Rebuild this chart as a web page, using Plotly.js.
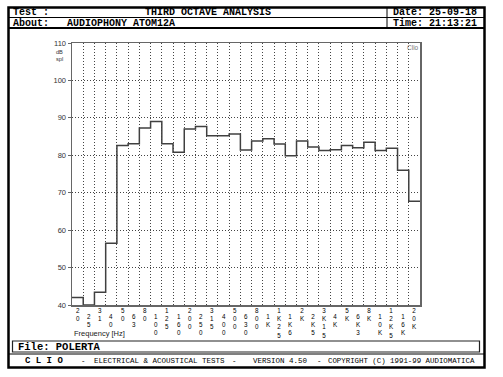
<!DOCTYPE html>
<html><head><meta charset="utf-8">
<script src="https://cdn.plot.ly/plotly-3.0.1.min.js"></script>
<style>html,body{margin:0;padding:0;background:#fff;overflow:hidden}#chart{width:503px;height:377px}</style>
</head><body><div id="chart"></div>
<script>
// ---- data ----
const bandLabels = ["20","25","31","40","50","63","80","100","125","160","200","250","315","400","500","630","800","1K","1K25","1K6","2K","2K5","3K15","4K","5K","6K3","8K","10K","12K5","16K","20K"];
const levels = [42.0,40.0,43.4,56.5,82.6,83.1,87.3,89.0,83.1,80.8,87.0,87.7,85.2,85.2,85.7,81.4,83.8,84.4,83.0,79.9,83.8,82.2,81.3,81.5,82.6,82.0,83.5,81.3,81.9,76.0,67.7];
const yTicks = [40,50,60,70,80,90,100,110];
const headerTitle = "THIRD OCTAVE ANALYSIS";
const aboutText = "AUDIOPHONY ATOM12A";
const dateText = "Date: 25-09-18";
const timeText = "Time: 21:13:21";
const fileText = "File: POLERTA";

// ---- geometry helpers (page pixels -> paper) ----
const W = 503, H = 377;
const M = {l:72, r:83, t:43, b:72};
const PW = W - M.l - M.r, PH = H - M.t - M.b;
const px = x => (x - M.l) / PW;
const py = y => (H - M.b - y) / PH;

const MONO = "Liberation Mono, DejaVu Sans Mono, monospace";
const SANS = "Liberation Sans, Arial, sans-serif";

// step trace from band index
const xs = levels.map((_, i) => i).concat([levels.length]);
const ys = levels.concat([levels[levels.length - 1]]);

const trace = {
  type: 'scatter', mode: 'lines', x: xs, y: ys,
  line: {shape: 'hv', color: '#404040', width: 1.5},
  hoverinfo: 'skip', showlegend: false
};

const ann = [];
function txt(t, X, Y, opt) {
  opt = opt || {};
  ann.push({
    text: t, xref: 'paper', yref: 'paper', x: px(X), y: py(Y),
    xanchor: opt.xa || 'left', yanchor: 'middle', showarrow: false,
    borderpad: 0, align: 'left',
    font: {family: opt.family || MONO, size: opt.size || 10, color: opt.color || '#000',
           weight: opt.bold ? 'bold' : 'normal'}
  });
}
// header
txt("Test :", 12, 13, {bold: true});
txt(headerTitle, 208, 13, {bold: true, xa: 'center'});
txt(dateText, 392, 13, {bold: true});
txt("About:", 12, 23, {bold: true});
txt(aboutText, 66, 23, {bold: true});
txt(timeText, 392, 23, {bold: true});
// file + footer
txt(fileText, 17, 346.5, {bold: true, size: 10.5});
txt("C L I O", 24, 360.5, {bold: true, size: 9});
txt("-", 80, 360.5, {size: 7.5});
txt("ELECTRICAL &amp; ACOUSTICAL TESTS", 93, 360.5, {size: 7.5});
txt("-", 231, 360.5, {size: 7.5});
txt("VERSION 4.50", 252, 360.5, {size: 7.5});
txt("-", 316, 360.5, {size: 7.5});
txt("COPYRIGHT (C) 1991-99 AUDIOMATICA", 327, 360.5, {size: 7.4});
// axis captions
txt("dB<br>spl", 55, 55.5, {family: SANS, size: 5.6, color: '#333'});
txt("Clio", 406, 48, {family: SANS, size: 6.5, color: '#777'});
txt("Frequency [Hz]", 73, 333, {family: SANS, size: 7.5, color: '#222'});

// x tick labels: vertical stacked characters, staggered rows (one text per band)
bandLabels.forEach((lab, i) => {
  const top = (i % 2 === 0) ? 306 : 312;
  ann.push({
    text: lab.split('').join('<br>'), xref: 'x', yref: 'paper', x: i + 0.5, y: py(top),
    xanchor: 'center', yanchor: 'top', showarrow: false, borderpad: 0, align: 'center',
    font: {family: SANS, size: 6.3, color: '#000'}
  });
});

const shapes = [];
function rect(x0, y0, x1, y1, w, c) {
  shapes.push({type: 'rect', xref: 'paper', yref: 'paper', x0: px(x0), x1: px(x1), y0: py(y0), y1: py(y1),
    line: {color: c || '#000', width: w}, fillcolor: 'rgba(0,0,0,0)', layer: 'above'});
}
function line(x0, y0, x1, y1, w, c) {
  shapes.push({type: 'line', xref: 'paper', yref: 'paper', x0: px(x0), x1: px(x1), y0: py(y0), y1: py(y1),
    line: {color: c || '#000', width: w}, layer: 'above'});
}
rect(8.5, 7.5, 484.5, 367.5, 2.5);
line(8, 17.5, 485, 17.5, 1);
line(8, 28, 485, 28, 2);
line(387, 8, 387, 28, 1);
rect(12.5, 341, 479.5, 352, 1.2, '#222');
line(8, 354, 485, 354, 1);

const layout = {
  width: W, height: H,
  margin: M,
  paper_bgcolor: '#fff', plot_bgcolor: '#fff',
  showlegend: false,
  xaxis: {
    range: [0, levels.length], tick0: 0, dtick: 1,
    showgrid: true, gridcolor: '#444', gridwidth: 1, griddash: '1px,2px',
    showticklabels: false, ticks: '', zeroline: false,
    showline: true, linecolor: '#666', linewidth: 1.5, mirror: true, fixedrange: true
  },
  yaxis: {
    range: [40, 110], tickvals: yTicks, ticktext: yTicks.map(String),
    showgrid: true, gridcolor: '#444', gridwidth: 1, griddash: '1px,2px',
    ticks: 'outside', ticklen: 3, tickcolor: '#666', tickwidth: 1,
    tickfont: {family: SANS, size: 7.5, color: '#333'},
    zeroline: false, showline: true, linecolor: '#666', linewidth: 1.5, mirror: true, fixedrange: true
  },
  annotations: ann,
  shapes: shapes
};

Plotly.newPlot('chart', [trace], layout, {displayModeBar: false, staticPlot: true});
</script>
</body></html>
